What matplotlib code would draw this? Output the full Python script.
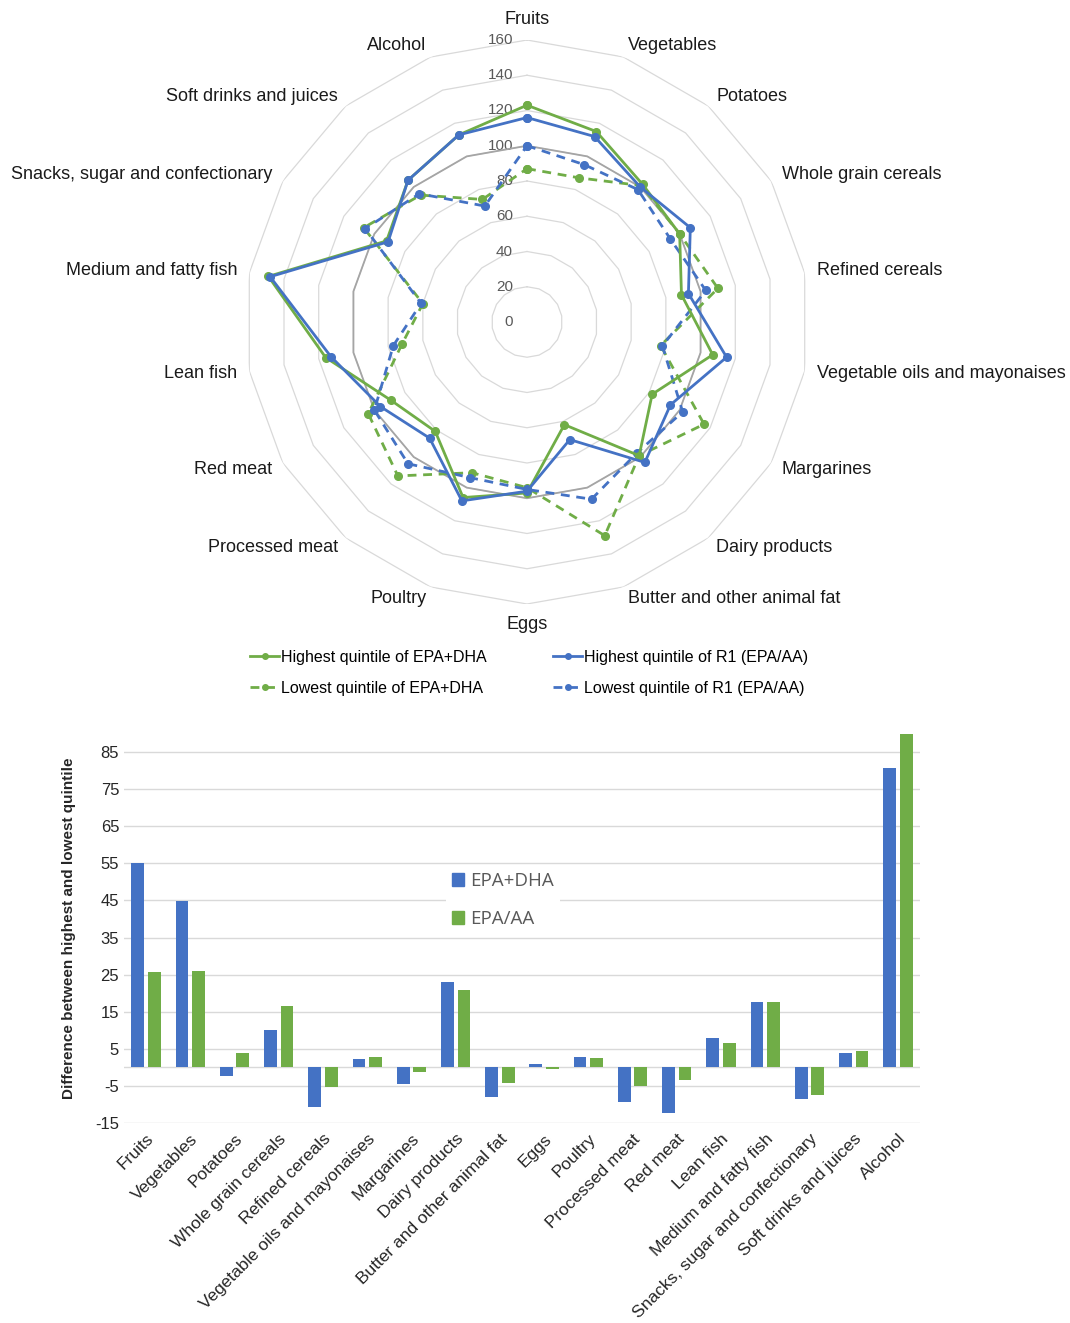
import numpy as np
import matplotlib
matplotlib.use('Agg')
import matplotlib.pyplot as plt
from matplotlib.lines import Line2D
from matplotlib.patches import Patch

plt.rcParams['font.family'] = ['Liberation Sans', 'DejaVu Sans']

# ---------------- data ----------------
categories = ["Fruits", "Vegetables", "Potatoes", "Whole grain cereals", "Refined cereals",
              "Vegetable oils and mayonaises", "Margarines", "Dairy products",
              "Butter and other animal fat", "Eggs", "Poultry", "Processed meat", "Red meat",
              "Lean fish", "Medium and fatty fish", "Snacks, sugar and confectionary",
              "Soft drinks and juices", "Alcohol"]

high_epa_dha = [123, 115, 102, 100, 89, 107, 82, 99, 62, 97, 106, 81, 89, 116, 149, 92, 105, 113]
high_r1      = [116, 112, 100, 107, 93, 115, 94, 104, 71, 96, 108, 86, 96, 113, 148, 91, 105, 113]
low_epa_dha  = [87, 87, 101, 100, 110, 77, 116, 99, 129, 94, 91, 114, 104, 72, 60, 107, 94, 74]
low_r1       = [100, 95, 98, 94, 103, 78, 102, 97, 107, 95, 94, 105, 100, 77, 61, 106, 95, 70]
reference    = [100] * 18
radar_ticks  = [0, 20, 40, 60, 80, 100, 120, 140, 160]

diff_epa_dha = [55, 44.8, -2.2, 10.1, -10.8, 2.3, -4.5, 23.1, -8.0, 0.8, 2.8, -9.3, -12.3, 7.8, 17.6, -8.5, 3.9, 80.7]
diff_epa_aa  = [25.7, 26.0, 3.9, 16.6, -5.2, 2.8, -1.3, 20.9, -4.2, -0.4, 2.5, -5.0, -3.5, 6.6, 17.6, -7.5, 4.3, 89.8]
bar_yticks   = [-15, -5, 5, 15, 25, 35, 45, 55, 65, 75, 85]

radar_legend = ["Highest quintile of EPA+DHA", "Lowest quintile of EPA+DHA",
                "Highest quintile of R1 (EPA/AA)", "Lowest quintile of R1 (EPA/AA)"]
bar_legend = ["EPA+DHA", "EPA/AA"]

BLUE = '#4472C4'
GREEN = '#70AD47'
GRAY = '#A5A5A5'
GRID = '#D9D9D9'

W, H = 1070, 1323
fig = plt.figure(figsize=(W / 100, H / 100), dpi=100)
fig.patch.set_facecolor('white')

# ---------------- radar ----------------
cx, cy, R = 527, 322, 282
ax = fig.add_axes([(cx - R) / W, (H - cy - R) / H, 2 * R / W, 2 * R / H], projection='polar')
ax.set_theta_zero_location('N')
ax.set_theta_direction(-1)
ax.set_ylim(0, 160)
ax.grid(False)
ax.set_xticks([])
ax.set_yticks([])
ax.spines['polar'].set_visible(False)

n = len(categories)
theta = np.deg2rad(np.arange(n) * 360.0 / n)
theta_c = np.append(theta, theta[0])


def closed(v):
    v = list(v)
    return v + [v[0]]


for r in radar_ticks[1:]:
    ax.plot(theta_c, [r] * (n + 1), color=GRID, lw=0.9, zorder=1)
for r in radar_ticks:
    ax.annotate(str(r), xy=(0, r), xytext=(-10, 0), textcoords='offset points',
                ha='right', va='center', fontsize=11, color='#595959', zorder=2)

dash = (0, (3.2, 2.4))
ms = 5.5
ax.plot(theta_c, closed(reference), color=GRAY, lw=1.3, zorder=3)
ax.plot(theta_c, closed(low_epa_dha), color=GREEN, lw=2, ls=dash, marker='o', ms=ms, zorder=4)
ax.plot(theta_c, closed(low_r1), color=BLUE, lw=2, ls=dash, marker='o', ms=ms, zorder=5)
ax.plot(theta_c, closed(high_epa_dha), color=GREEN, lw=2, marker='o', ms=ms, zorder=6)
ax.plot(theta_c, closed(high_r1), color=BLUE, lw=2, marker='o', ms=ms, zorder=7)

for t, lab in zip(theta, categories):
    deg = np.rad2deg(t)
    if np.isclose(deg, 0):
        ha, va = 'center', 'bottom'
    elif np.isclose(deg, 180):
        ha, va = 'center', 'top'
    elif deg < 180:
        ha, va = 'left', 'center'
    else:
        ha, va = 'right', 'center'
    ax.text(t, 167, lab, ha=ha, va=va, fontsize=13, color='#1a1a1a')

handles = [Line2D([], [], color=GREEN, lw=2, marker='o', ms=4),
           Line2D([], [], color=GREEN, lw=2, ls=dash, marker='o', ms=4),
           Line2D([], [], color=BLUE, lw=2, marker='o', ms=4),
           Line2D([], [], color=BLUE, lw=2, ls=dash, marker='o', ms=4)]
fig.legend(handles, radar_legend, loc='center', bbox_to_anchor=(529 / W, 1 - 673 / H),
           ncol=2, frameon=False, fontsize=11.5, handlelength=1.8, handletextpad=0.1,
           columnspacing=4.2, labelspacing=1.0)

# ---------------- bar chart ----------------
left, right, top, bottom = 124, 920, 733.5, 1123
bx = fig.add_axes([left / W, (H - bottom) / H, (right - left) / W, (bottom - top) / H])
x = np.arange(n)
bw = 0.29
bx.bar(x - 0.187, diff_epa_dha, bw, color=BLUE, zorder=3)
bx.bar(x + 0.187, diff_epa_aa, bw, color=GREEN, zorder=3)
bx.set_xlim(-0.5, n - 0.5)
bx.set_ylim(-15, 90)
bx.set_yticks(bar_yticks)
bx.set_yticklabels([str(v) for v in bar_yticks], fontsize=12, color='#262626')
bx.set_xticks(x)
bx.set_xticklabels(categories, rotation=45, ha='right', va='top', rotation_mode='anchor',
                   fontsize=12.5, color='#262626')
bx.tick_params(length=0)
bx.tick_params(axis='x', pad=6)
for s in bx.spines.values():
    s.set_visible(False)
bx.grid(axis='y', color=GRID, lw=1)
bx.set_axisbelow(True)
bx.axhline(0, color=GRID, lw=1, zorder=1)
bx.set_ylabel("Difference between highest and lowest quintile", fontsize=11, fontweight='bold',
              color='#262626')
bx.yaxis.set_label_coords((76 - left) / (right - left), 0.5)

leg = bx.legend([Patch(color=BLUE), Patch(color=GREEN)], bar_legend, loc='center',
                bbox_to_anchor=(503 / W, 1 - 900 / H), bbox_transform=fig.transFigure,
                frameon=True, facecolor='white', edgecolor='none', framealpha=1,
                prop={'family': 'Open Sans', 'size': 13.5}, labelcolor='#595959',
                handlelength=0.65, handleheight=0.65, handletextpad=0.35,
                labelspacing=1.05, borderpad=0.3)

fig.savefig('out.png', dpi=100, facecolor='white')
